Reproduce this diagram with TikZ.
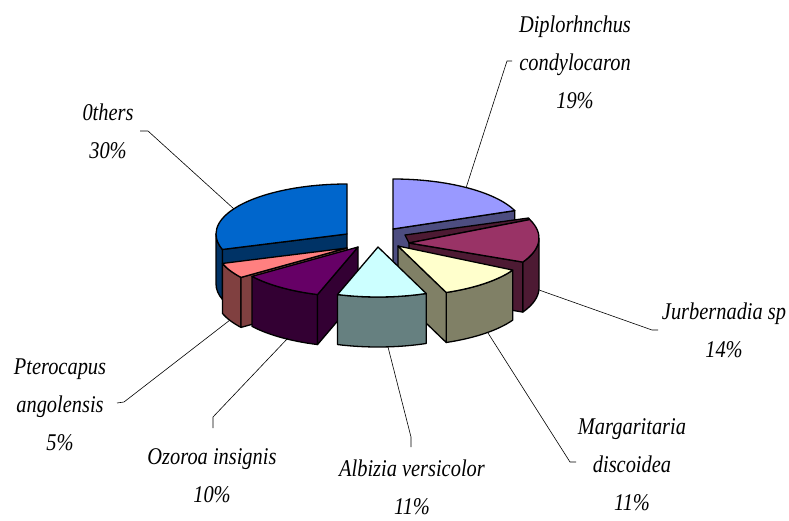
\documentclass[tikz,border=0pt]{standalone}
\usepackage{fontspec}
\setmainfont{Liberation Serif}[FakeStretch=0.85]
\usetikzlibrary{calc}

% slice colours: top face / side faces
\definecolor{dipTop}{HTML}{9999FF}\definecolor{dipSide}{HTML}{4D4D80}
\definecolor{jurTop}{HTML}{993366}\definecolor{jurSide}{HTML}{4D1A33}
\definecolor{marTop}{HTML}{FFFFCC}\definecolor{marSide}{HTML}{808066}
\definecolor{albTop}{HTML}{CCFFFF}\definecolor{albSide}{HTML}{668080}
\definecolor{ozoTop}{HTML}{660066}\definecolor{ozoSide}{HTML}{330033}
\definecolor{ptrTop}{HTML}{FF8080}\definecolor{ptrSide}{HTML}{804040}
\definecolor{othTop}{HTML}{0066CC}\definecolor{othSide}{HTML}{003366}

% ellipse radii and thickness of the pie
\def\rx{131}\def\ry{50}\def\dep{50}

% top face: apex, start angle, end angle, colour
\newcommand\pieTop[4]{%
  \filldraw[face,fill=#4] (#1) -- ++(#2:\rx\space and \ry) arc[start angle=#2,end angle=#3,x radius=\rx,y radius=\ry] -- cycle;}
% curved outer wall: apex, start angle, end angle, colour
\newcommand\pieWall[4]{%
  \filldraw[face,fill=#4] (#1) ++(#2:\rx\space and \ry) arc[start angle=#2,end angle=#3,x radius=\rx,y radius=\ry]
    -- ++(0,-\dep) arc[start angle=#3,end angle=#2,x radius=\rx,y radius=\ry] -- cycle;}
% flat cut face along a radius: apex, angle, colour
\newcommand\pieCut[3]{%
  \filldraw[face,fill=#3] (#1) -- ++(#2:\rx\space and \ry) -- ++(0,-\dep) -- ++({-\rx*cos(#2)},{-\ry*sin(#2)}) -- cycle;}

\begin{document}
\begin{tikzpicture}[x=1pt,y=1pt,
  face/.style={draw=black,line width=1.3pt,line join=round},
  leader/.style={draw=black,line width=0.6pt},
  lbl/.style={align=center,inner sep=0pt,font=\fontsize{24}{38}\selectfont\itshape}]
\useasboundingbox (0,0) rectangle (789,520);

% apex of every exploded slice
\coordinate (oth) at (347,286);
\coordinate (dip) at (393,291);
\coordinate (jur) at (408,282);
\coordinate (jurA) at (409,277);
\coordinate (mar) at (398,274);
\coordinate (alb) at (378,273);
\coordinate (ozo) at (358,273);
\coordinate (ptr) at (347,272);

% Others 30%
\pieWall{oth}{180}{198}{othSide}
\pieCut{oth}{198}{othSide}
\pieTop{oth}{90}{198}{othTop}

% Diplorhnchus condylocaron 19%
\pieCut{dip}{21.6}{dipSide}
\pieTop{dip}{21.6}{90}{dipTop}

% Jurbernadia sp 14%
\path (jur) ++(21.6:\rx\space and \ry) coordinate (jurC);
\path (jur) ++(-28.8:\rx\space and \ry) coordinate (jurD);
\pieWall{jur}{-28.8}{0}{jurSide}
\filldraw[face,fill=jurSide] (jurA) -- (jurD) -- ++(0,-\dep) -- ($(jurA)+(0,-\dep)$) -- cycle;
\filldraw[face,fill=jurSide] (405,285) -- (528.5,302) -- (jurC) -- (jurA) -- cycle;
\filldraw[face,fill=jurTop] (jurA) -- (jurC) arc[start angle=21.6,end angle=-28.8,x radius=\rx,y radius=\ry] -- cycle;

% Pterocapus angolensis 5%
\pieWall{ptr}{198}{216}{ptrSide}
\pieCut{ptr}{216}{ptrSide}
\pieTop{ptr}{198}{216}{ptrTop}

% Margaritaria discoidea 11%
\pieWall{mar}{-68.4}{-28.8}{marSide}
\pieCut{mar}{-68.4}{marSide}
\pieTop{mar}{-68.4}{-28.8}{marTop}

% Ozoroa insignis 10%
\pieWall{ozo}{216}{252}{ozoSide}
\pieCut{ozo}{252}{ozoSide}
\pieTop{ozo}{216}{252}{ozoTop}

% Albizia versicolor 11%
\pieWall{alb}{252}{291.6}{albSide}
\pieTop{alb}{252}{291.6}{albTop}

% labels
\node[lbl] (lDip) at (575,458) {Diplorhnchus\\condylocaron\\19\%};
\node[lbl] (lJur) at (724,189.5) {Jurbernadia sp\\14\%};
\node[lbl] (lMar) at (632,55) {Margaritaria\\discoidea\\11\%};
\node[lbl] (lAlb) at (412,33) {Albizia versicolor\\11\%};
\node[lbl] (lOzo) at (212,44.5) {Ozoroa insignis\\10\%};
\node[lbl] (lPtr) at (60,115) {Pterocapus\\angolensis\\5\%};
\node[lbl] (lOth) at (108,388.5) {0thers\\30\%};

% leader line end points
\coordinate (pDip) at (466,332);  \coordinate (bDip) at (507,459); \coordinate (tDip) at (512,459);
\coordinate (pJur) at (539,230);  \coordinate (bJur) at (652,190); \coordinate (tJur) at (658,190);
\coordinate (pMar) at (488,187);  \coordinate (bMar) at (570,58);  \coordinate (tMar) at (576,58);
\coordinate (pAlb) at (388,173);  \coordinate (bAlb) at (411,83);  \coordinate (tAlb) at (411,73);
\coordinate (pOzo) at (288,182);  \coordinate (bOzo) at (213,103); \coordinate (tOzo) at (213,92);
\coordinate (pPtr) at (230,200);  \coordinate (bPtr) at (124,118); \coordinate (tPtr) at (117,117);
\coordinate (pOth) at (234,311);  \coordinate (bOth) at (148,389); \coordinate (tOth) at (140,389);

\draw[leader] (pDip) -- (bDip) -- (tDip);
\draw[leader] (pJur) -- (bJur) -- (tJur);
\draw[leader] (pMar) -- (bMar) -- (tMar);
\draw[leader] (pAlb) -- (bAlb) -- (tAlb);
\draw[leader] (pOzo) -- (bOzo) -- (tOzo);
\draw[leader] (pPtr) -- (bPtr) -- (tPtr);
\draw[leader] (pOth) -- (bOth) -- (tOth);
\end{tikzpicture}
\end{document}
